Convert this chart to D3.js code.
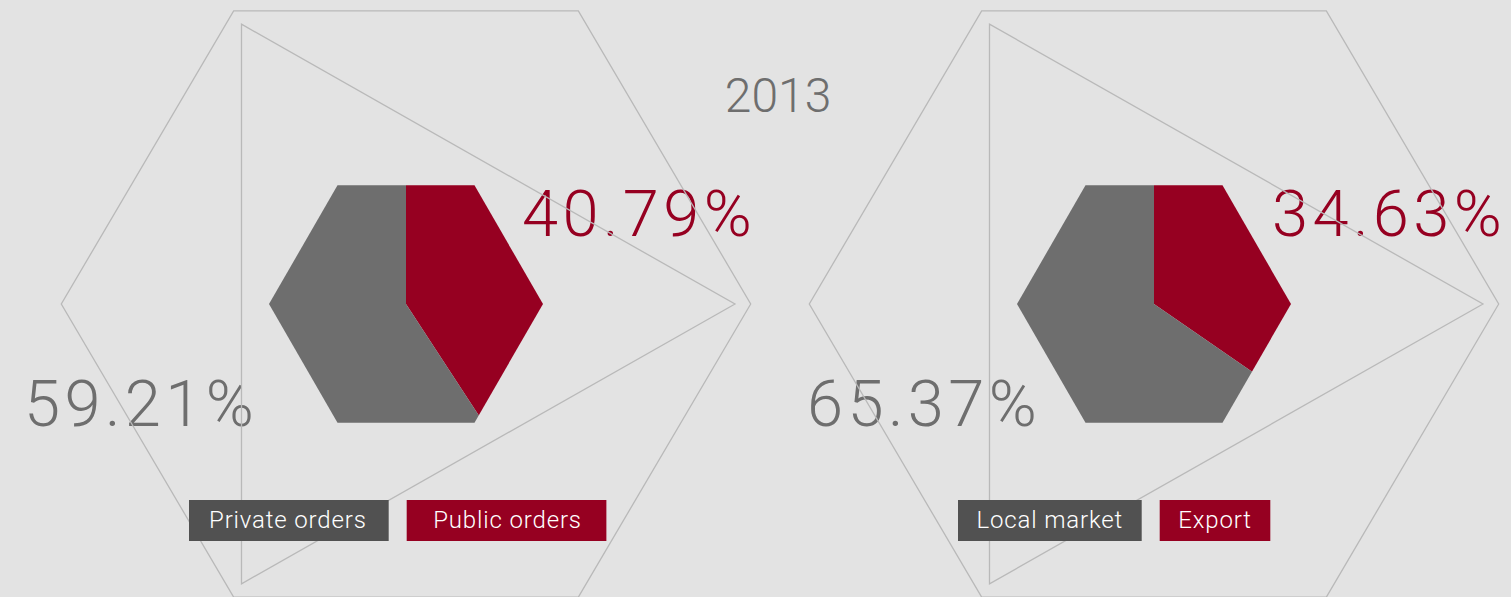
<!DOCTYPE html>
<html>
<head>
<meta charset="utf-8">
<script src="https://cdn.jsdelivr.net/npm/d3@7"></script>
<style>
  html, body { margin: 0; padding: 0; background: #e3e3e3; }
  svg { display: block; font-family: Roboto, "Helvetica Neue", Arial, sans-serif; font-weight: 300; }
</style>
</head>
<body>
<svg id="chart"></svg>
<script>
// data
const year = "2013";
const panels = ["orders", "market"];
const seriesLabels = [["Private orders", "Public orders"], ["Local market", "Export"]];
const grayValues = [59.21, 65.37];
const redValues = [40.79, 34.63];

const width = 1511, height = 597;
const colors = { bg: "#e3e3e3", gray: "#6e6e6e", red: "#960021", box: "#515151", line: "#b9b9b9" };

const svg = d3.select("#chart").attr("width", width).attr("height", height);
svg.append("rect").attr("width", width).attr("height", height).attr("fill", colors.bg);

const xPanel = d3.scalePoint().domain(panels).range([406, 1154]);
const cy = 304;
const innerR = 137;
const outerR = 344.7, triR = 329, squash = 0.982;

// polygon helper, angles in degrees, 0 = pointing right
function poly(cx, r, angles, sy) {
  return angles.map(a => {
    const t = a * Math.PI / 180;
    return [cx + r * Math.cos(t), cy + r * Math.sin(t) * sy];
  });
}
const line = d3.line().curve(d3.curveLinearClosed);

svg.append("text")
  .attr("x", 778).attr("y", 111.5)
  .attr("text-anchor", "middle")
  .attr("font-size", 48)
  .attr("fill", colors.gray)
  .text(year);

const pie = d3.pie().sort(null).value(d => d);
const arc = d3.arc().innerRadius(0).outerRadius(innerR * 1.5);

// label layout per panel
const redLabelX = [522, 1272], grayLabelX = [24, 807];
const legendX = [189, 958];

panels.forEach((p, i) => {
  const cx = xPanel(p);
  const g = svg.append("g").attr("class", "panel " + p);

  const hex = poly(cx, innerR, [0, 60, 120, 180, 240, 300], 1);
  g.append("clipPath").attr("id", "clip-" + p)
    .append("path").attr("d", line(hex));

  g.append("g")
    .attr("clip-path", `url(#clip-${p})`)
    .selectAll("path")
    .data(pie([redValues[i], grayValues[i]]))
    .join("path")
    .attr("transform", `translate(${cx},${cy})`)
    .attr("d", arc)
    .attr("fill", (d, j) => j === 0 ? colors.red : colors.gray);

  // value labels
  g.append("text")
    .attr("x", redLabelX[i]).attr("y", 235.5)
    .attr("font-size", 65)
    .attr("letter-spacing", 4.4)
    .attr("fill", colors.red)
    .text(redValues[i].toFixed(2) + "%");
  g.append("text")
    .attr("x", grayLabelX[i]).attr("y", 426)
    .attr("font-size", 65)
    .attr("letter-spacing", 4.4)
    .attr("fill", colors.gray)
    .text(grayValues[i].toFixed(2) + "%");

  // outline shapes
  g.append("path")
    .attr("d", line(poly(cx, outerR, [0, 60, 120, 180, 240, 300], squash)))
    .attr("fill", "none").attr("stroke", colors.line).attr("stroke-width", 1.3);
  g.append("path")
    .attr("d", line(poly(cx, triR, [0, 120, 240], squash)))
    .attr("fill", "none").attr("stroke", colors.line).attr("stroke-width", 1.3);

  // legend
  const leg = g.append("g").attr("transform", `translate(${legendX[i]},500)`);
  const items = leg.selectAll("g").data(seriesLabels[i]).join("g");
  items.append("rect").attr("height", 41)
    .attr("fill", (d, j) => j === 0 ? colors.box : colors.red);
  items.append("text")
    .attr("y", 27.5)
    .attr("font-size", 24)
    .attr("letter-spacing", 0.85)
    .attr("fill", "#fff")
    .text(d => d);
  const pad = i === 0 ? 21 : 18.5, gap = 18;
  const textW = items.select("text").nodes().map(n => n.getComputedTextLength());
  let widths = textW.map(w => w + 2 * pad);
  if (i === 0) { const m = d3.max(widths); widths = widths.map(() => m); }
  let x = 0;
  items.each(function(d, j) {
    const it = d3.select(this).attr("transform", `translate(${x},0)`);
    it.select("rect").attr("width", widths[j]);
    it.select("text").attr("x", i === 0 ? (widths[j] - textW[j]) / 2 + (j === 1 ? 1 : -1) : pad);
    x += widths[j] + gap;
  });
});
</script>
</body>
</html>
